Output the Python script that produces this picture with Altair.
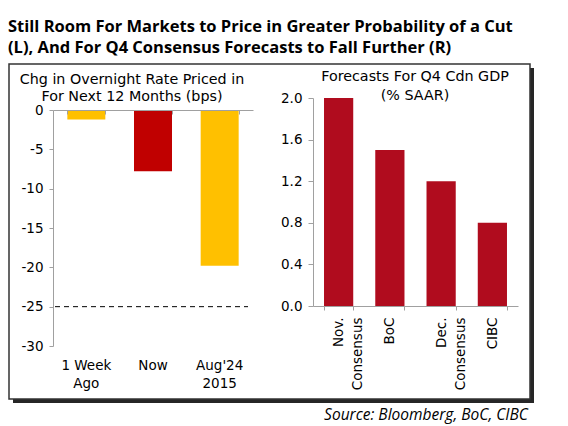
import altair as alt
import pandas as pd

# left panel: change in overnight rate priced in for next 12 months (bps)
left_cats = ["1 Week|Ago", "Now", "Aug'24|2015"]
left_vals = [-1.2, -7.8, -19.8]
left_colors = ["#FFC000", "#C00000", "#FFC000"]
left_ticks = [0, -5, -10, -15, -20, -25, -30]
left_ref = [-25]

# right panel: forecasts for Q4 Cdn GDP (% SAAR)
right_cats = ["Nov.|Consensus", "BoC", "Dec.|Consensus", "CIBC"]
right_vals = [2.0, 1.5, 1.2, 0.8]
right_ticks = [0.0, 0.4, 0.8, 1.2, 1.6, 2.0]

title_lines = ["Still Room For Markets to Price in Greater Probability of a Cut",
               "(L), And For Q4 Consensus Forecasts to Fall Further (R)"]
left_title = ["Chg in Overnight Rate Priced in", "For Next 12 Months (bps)"]
right_title = ["Forecasts For Q4 Cdn GDP", "(% SAAR)"]
source = "Source: Bloomberg, BoC, CIBC"

W, H = 552, 416
FONT = "DejaVu Sans"
TITLE_FONT = "Open Sans"
GREY = "#A0A0A0"

left = pd.DataFrame({"cat": left_cats, "val": left_vals, "col": left_colors})
right = pd.DataFrame({"cat": right_cats, "val": right_vals})
ref = pd.DataFrame({"v": left_ref})
one = pd.DataFrame({"k": [0]})

lx = alt.Scale(domain=left_cats, range=[45, 245], paddingInner=0.43, paddingOuter=0.215)
ly = alt.Scale(domain=[-30, 0], range=[338, 102], nice=False, zero=False)
rx = alt.Scale(domain=right_cats, range=[305, 510], paddingInner=0.43, paddingOuter=0.215)
ry = alt.Scale(domain=[0, 2], range=[298, 90], nice=False)

lab = dict(labelFont=FONT, labelFontSize=13.5, labelColor="black", labelOverlap=False,
           labelBound=False, zindex=1)


def text_layer(lines, x, y, size, font=FONT, **kw):
    return alt.Chart(one).mark_text(text=lines, font=font, fontSize=size, color="black", **kw).encode(
        x=alt.value(x), y=alt.value(y))


shadow = alt.Chart(one).mark_rect(color="#262626").encode(
    x=alt.value(5), x2=alt.value(526), y=alt.value(60), y2=alt.value(395))
frame = alt.Chart(one).mark_rect(fill="white", stroke="#333333", strokeWidth=1.5).encode(
    x=alt.value(1), x2=alt.value(522), y=alt.value(56), y2=alt.value(391))

left_bars = alt.Chart(left).mark_bar().encode(
    x=alt.X("cat:N", scale=lx, axis=alt.Axis(
        orient="bottom", offset=-(H - 102), labels=False, title=None, domainColor=GREY,
        tickColor=GREY, tickSize=4, tickBand="extent", zindex=1)),
    y=alt.Y("val:Q", scale=ly, axis=alt.Axis(
        orient="left", offset=-45, values=left_ticks, title=None, domainColor=GREY,
        tickColor=GREY, tickSize=4, labelPadding=6, labelExpr="'' + datum.value", **lab)),
    color=alt.Color("col:N", scale=None),
)

left_labels = alt.Chart(left).mark_bar(opacity=0).encode(
    x=alt.X("cat:N", scale=lx, axis=alt.Axis(
        orient="bottom", offset=-(H - 338), domain=False, ticks=False, title=None,
        labelAngle=0, labelPadding=12, labelBaseline="top", labelLineHeight=18,
        labelExpr="split(datum.label, '|')", **lab)),
)

ref_line = alt.Chart(ref).mark_rule(color="black", strokeDash=[5, 4], strokeWidth=1).encode(
    y=alt.Y("v:Q", scale=ly, axis=None), x=alt.value(47), x2=alt.value(240))

right_bars = alt.Chart(right).mark_bar(color="#B00C1E").encode(
    x=alt.X("cat:N", scale=rx, axis=alt.Axis(
        orient="bottom", offset=-(H - 298), title=None, domainColor=GREY, tickColor=GREY,
        tickSize=4, tickBand="extent", labelAngle=270, labelAlign="right",
        labelBaseline="middle", labelPadding=7, labelLineHeight=19,
        labelExpr="split(datum.label, '|')", **lab)),
    y=alt.Y("val:Q", scale=ry, axis=alt.Axis(
        orient="left", offset=-305, values=right_ticks, format=".1f", title=None,
        domainColor=GREY, tickColor=GREY, tickSize=5, labelPadding=6, **lab)),
)

chart = alt.layer(
    shadow, frame,
    left_bars, left_labels, ref_line, right_bars,
    text_layer(title_lines, 0, 19, 16.5, font=TITLE_FONT, fontWeight="bold", align="left",
               baseline="middle", lineHeight=21),
    text_layer(left_title, 124, 72, 14.3, align="center", baseline="middle", lineHeight=17),
    text_layer(right_title, 407, 69, 14.3, align="center", baseline="middle", lineHeight=19),
    text_layer(source, 520, 407, 15.5, font=TITLE_FONT, fontStyle="italic", align="right",
               baseline="middle"),
).resolve_scale(
    x="independent", y="independent", color="independent"
).properties(
    width=W, height=H, padding=0, autosize=alt.AutoSizeParams(type="none")
).configure_view(stroke=None).configure_axis(grid=False)

chart.save("out.html", embed_options={"renderer": "svg", "actions": False})
